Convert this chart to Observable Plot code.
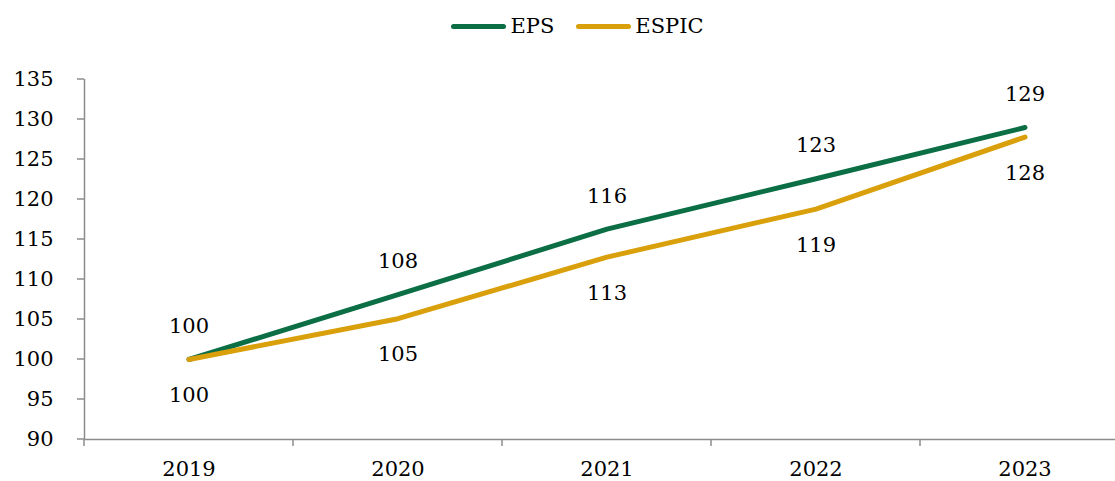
<!DOCTYPE html>
<html>
<head>
<meta charset="utf-8">
<script src="https://cdn.jsdelivr.net/npm/d3@7"></script>
<script src="https://cdn.jsdelivr.net/npm/@observablehq/plot@0.6"></script>
<style>
  html, body { margin: 0; padding: 0; background: #fff; }
  #wrap { position: relative; width: 1115px; height: 481px; font-family: "DejaVu Serif", serif; }
  #legend { position: absolute; top: 14px; left: 20px; width: 1115px; display: flex; justify-content: center; align-items: center; font-size: 21px; color: #000; z-index: 2; }
  .item { display: flex; align-items: center; margin: 0 11px; }
  .swatch { width: 55px; height: 5px; border-radius: 3px; margin-right: 4px; }
</style>
</head>
<body>
<div id="wrap"><div id="legend"></div></div>
<script>
const years = [2019, 2020, 2021, 2022, 2023];
const seriesNames = ["EPS", "ESPIC"];
const epsValues = [100, 108.1, 116.3, 122.6, 129.0];
const espicValues = [100, 105.1, 112.8, 118.8, 127.8];
const yTicks = [90, 95, 100, 105, 110, 115, 120, 125, 130, 135];
const colors = ["#0b6e45", "#d9a00b"];

const data = [];
years.forEach((yr, i) => {
  data.push({year: yr, series: "EPS", value: epsValues[i]});
  data.push({year: yr, series: "ESPIC", value: espicValues[i]});
});
const xMin = years[0] - 0.5, xMax = years[years.length - 1] + 0.5;
const boundaries = [xMin, ...years.map(y => y + 0.5)];
const axisColor = "#8c8c8c";

const chart = Plot.plot({
  width: 1115,
  height: 481,
  marginLeft: 84,
  marginRight: 0,
  marginTop: 79,
  marginBottom: 42,
  style: {fontFamily: "DejaVu Serif, serif", fontSize: "21px", color: "#000", background: "#fff", overflow: "hidden"},
  x: {type: "linear", domain: [xMin, xMax], range: [84, 1129], axis: null},
  y: {type: "linear", domain: [90, 135], axis: null},
  color: {domain: seriesNames, range: colors},
  marks: [
    Plot.ruleX([xMin], {y1: 90, y2: 135, stroke: axisColor, strokeWidth: 1.5}),
    Plot.ruleY([90], {x1: xMin, x2: xMax, stroke: axisColor, strokeWidth: 1.5}),
    Plot.line(data, {x: "year", y: "value", z: "series", stroke: "series", strokeWidth: 5, strokeLinecap: "round", strokeLinejoin: "round"}),
    Plot.text(yTicks, {y: d => d, x: () => xMin, text: d => String(d), textAnchor: "end", dx: -31, fill: "#000"}),
    Plot.text(years, {x: d => d, y: () => 90, text: d => String(d), dy: 30, fill: "#000"}),
    Plot.text(data.filter(d => d.series === "EPS"), {x: "year", y: "value", text: d => d3.format(".0f")(d.value), dy: -33, fill: "#000"}),
    Plot.text(data.filter(d => d.series === "ESPIC"), {x: "year", y: "value", text: d => d3.format(".0f")(d.value), dy: 36, fill: "#000"})
  ]
});

const xs = chart.scale("x"), ys = chart.scale("y");
const svg = d3.select(chart);
const g = svg.append("g").attr("stroke", axisColor).attr("stroke-width", 1.5);
boundaries.forEach(b => {
  const px = xs.apply(b);
  g.append("line").attr("x1", px).attr("x2", px).attr("y1", ys.apply(90)).attr("y2", ys.apply(90) + 7);
});
yTicks.forEach(t => {
  const py = ys.apply(t);
  g.append("line").attr("x1", xs.apply(xMin) - 7).attr("x2", xs.apply(xMin)).attr("y1", py).attr("y2", py);
});

document.getElementById("wrap").appendChild(chart);
chart.style.position = "absolute";
chart.style.top = "0";
chart.style.left = "0";
const leg = document.getElementById("legend");
seriesNames.forEach((s, i) => {
  const it = document.createElement("div");
  it.className = "item";
  it.innerHTML = `<div class="swatch" style="background:${colors[i]}"></div><span>${s}</span>`;
  leg.appendChild(it);
});
</script>
</body>
</html>
